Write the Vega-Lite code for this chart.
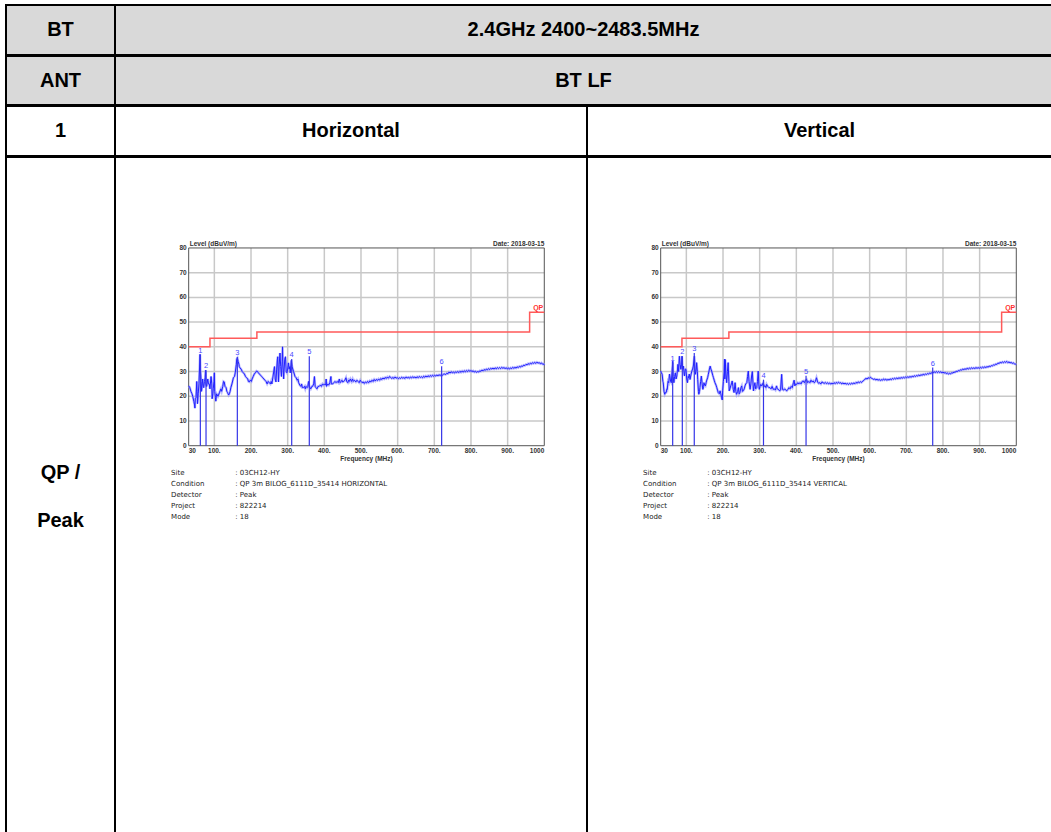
{
  "$schema": "https://vega.github.io/schema/vega-lite/v6.json",
  "padding": {"left": 5, "top": 4, "right": 0, "bottom": 0},
  "background": "white",
  "spacing": -2,
  "config": {
    "view": {"stroke": "black", "strokeWidth": 2},
    "concat": {"spacing": 0},
    "text": {"font": "Liberation Sans"}
  },
  "datasets": {
    "gridL": [{"g":"a","f":100,"v":0},{"g":"a","f":100,"v":80},{"g":"b","f":200,"v":0},{"g":"b","f":200,"v":80},{"g":"c","f":300,"v":0},{"g":"c","f":300,"v":80},{"g":"d","f":400,"v":0},{"g":"d","f":400,"v":80},{"g":"e","f":500,"v":0},{"g":"e","f":500,"v":80},{"g":"f","f":600,"v":0},{"g":"f","f":600,"v":80},{"g":"g","f":700,"v":0},{"g":"g","f":700,"v":80},{"g":"h","f":800,"v":0},{"g":"h","f":800,"v":80},{"g":"i","f":900,"v":0},{"g":"i","f":900,"v":80},{"g":"j","f":30,"v":10},{"g":"j","f":1000,"v":10},{"g":"k","f":30,"v":20},{"g":"k","f":1000,"v":20},{"g":"l","f":30,"v":30},{"g":"l","f":1000,"v":30},{"g":"m","f":30,"v":40},{"g":"m","f":1000,"v":40},{"g":"n","f":30,"v":50},{"g":"n","f":1000,"v":50},{"g":"o","f":30,"v":60},{"g":"o","f":1000,"v":60},{"g":"p","f":30,"v":70},{"g":"p","f":1000,"v":70}],
    "frame": [{"g":"B","f":30,"v":0},{"g":"B","f":1000,"v":0},{"g":"T","f":30,"v":80},{"g":"T","f":1000,"v":80},{"g":"L","f":30,"v":0},{"g":"L","f":30,"v":80},{"g":"R","f":1000,"v":0},{"g":"R","f":1000,"v":80}],
    "qp": [{"f":30,"v":40},{"f":88,"v":43.5},{"f":216,"v":46},{"f":960,"v":54},{"f":1000,"v":54}],
    "yt": [{"f":30,"v":0,"l":"0"},{"f":30,"v":10,"l":"10"},{"f":30,"v":20,"l":"20"},{"f":30,"v":30,"l":"30"},{"f":30,"v":40,"l":"40"},{"f":30,"v":50,"l":"50"},{"f":30,"v":60,"l":"60"},{"f":30,"v":70,"l":"70"},{"f":30,"v":80,"l":"80"}],
    "xt": [{"f":100,"v":0,"l":"100."},{"f":200,"v":0,"l":"200."},{"f":300,"v":0,"l":"300."},{"f":400,"v":0,"l":"400."},{"f":500,"v":0,"l":"500."},{"f":600,"v":0,"l":"600."},{"f":700,"v":0,"l":"700."},{"f":800,"v":0,"l":"800."},{"f":900,"v":0,"l":"900."}],
    "x30": [{"f":30,"v":0,"t":"30"}],
    "x1000": [{"f":1000,"v":0,"t":"1000"}],
    "lvl": [{"f":30,"v":80,"t":"Level (dBuV/m)"}],
    "date": [{"f":1000,"v":80,"t":"Date: 2018-03-15"}],
    "qpl": [{"f":1000,"v":54,"t":"QP"}],
    "freq": [{"f":515,"v":0,"t":"Frequency (MHz)"}],
    "infoK": [{"f":-18,"v":-9.6,"t":"Site"},{"f":-18,"v":-13.97,"t":"Condition"},{"f":-18,"v":-18.34,"t":"Detector"},{"f":-18,"v":-22.71,"t":"Project"},{"f":-18,"v":-27.08,"t":"Mode"}],
    "infoH": [{"f":157,"v":-9.6,"t":": 03CH12-HY"},{"f":157,"v":-13.97,"t":": QP 3m BILOG_6111D_35414 HORIZONTAL"},{"f":157,"v":-18.34,"t":": Peak"},{"f":157,"v":-22.71,"t":": 822214"},{"f":157,"v":-27.08,"t":": 18"}],
    "infoV": [{"f":157,"v":-9.6,"t":": 03CH12-HY"},{"f":157,"v":-13.97,"t":": QP 3m BILOG_6111D_35414 VERTICAL"},{"f":157,"v":-18.34,"t":": Peak"},{"f":157,"v":-22.71,"t":": 822214"},{"f":157,"v":-27.08,"t":": 18"}],
    "mkH": [{"f":61.8,"v":36.8,"n":"1"},{"f":77.3,"v":30.5,"n":"2"},{"f":162.7,"v":35.9,"n":"3"},{"f":311,"v":35.1,"n":"4"},{"f":359,"v":36.2,"n":"5"},{"f":720,"v":32.1,"n":"6"}],
    "spH": [{"m":"1","f":61.8,"v":0},{"m":"1","f":61.8,"v":36.8},{"m":"2","f":77.3,"v":0},{"m":"2","f":77.3,"v":30.5},{"m":"3","f":162.7,"v":0},{"m":"3","f":162.7,"v":35.9},{"m":"4","f":311,"v":0},{"m":"4","f":311,"v":35.1},{"m":"5","f":359,"v":0},{"m":"5","f":359,"v":36.2},{"m":"6","f":720,"v":0},{"m":"6","f":720,"v":32.1}],
    "mkV": [{"f":62.7,"v":33.5,"n":"1"},{"f":89,"v":36.2,"n":"2"},{"f":121.6,"v":37.5,"n":"3"},{"f":310.4,"v":26.7,"n":"4"},{"f":426.5,"v":28.3,"n":"5"},{"f":772,"v":31.6,"n":"6"}],
    "spV": [{"m":"1","f":62.7,"v":0},{"m":"1","f":62.7,"v":33.5},{"m":"2","f":89,"v":0},{"m":"2","f":89,"v":36.2},{"m":"3","f":121.6,"v":0},{"m":"3","f":121.6,"v":37.5},{"m":"4","f":310.4,"v":0},{"m":"4","f":310.4,"v":26.7},{"m":"5","f":426.5,"v":0},{"m":"5","f":426.5,"v":28.3},{"m":"6","f":772,"v":0},{"m":"6","f":772,"v":31.6}],
    "traceH": [
      {"f":30,"v":24.2},{"f":33,"v":23.5},{"f":36,"v":22},{"f":39,"v":21},{"f":41,"v":20},{"f":44,"v":18},{"f":46,"v":16.5},{"f":47,"v":15.2},{"f":48,"v":19},{"f":50,"v":19.5},{"f":52,"v":26},{"f":53,"v":22},{"f":54,"v":17},{"f":56,"v":21},{"f":58,"v":25},{"f":59,"v":29},{"f":61,"v":37},{"f":62,"v":31},{"f":64,"v":26},{"f":65,"v":22},{"f":67,"v":25},{"f":68,"v":27},{"f":70,"v":24},{"f":71,"v":23.5},{"f":73,"v":26},{"f":75,"v":27.5},{"f":76,"v":30.5},{"f":77,"v":25},{"f":79,"v":24},{"f":82,"v":27},{"f":84,"v":25},{"f":86,"v":25},{"f":88,"v":23},{"f":91,"v":28},{"f":93,"v":25},{"f":94,"v":19},{"f":96,"v":21},{"f":97,"v":23},{"f":99,"v":26},{"f":100,"v":29.5},{"f":101,"v":22},{"f":103,"v":19.5},{"f":104,"v":18},{"f":106,"v":21},{"f":110,"v":20},{"f":114,"v":21.5},{"f":118,"v":23},{"f":120,"v":22},{"f":123,"v":24},{"f":125,"v":26},{"f":127,"v":25.8},{"f":129,"v":24},{"f":132,"v":23.5},{"f":134,"v":22},{"f":136,"v":21.5},{"f":139,"v":20.5},{"f":141,"v":21},{"f":143,"v":22},{"f":145,"v":23.5},{"f":148,"v":25},{"f":152,"v":27.5},{"f":155,"v":28},{"f":157,"v":29.5},{"f":160,"v":33},{"f":161,"v":35},{"f":163,"v":35.5},{"f":165,"v":34},{"f":167,"v":33},{"f":168,"v":32},{"f":170,"v":31.5},{"f":173,"v":31},{"f":176,"v":30},{"f":179,"v":29.5},{"f":182,"v":29},{"f":185,"v":28},{"f":188,"v":27.5},{"f":191,"v":27},{"f":193,"v":26},{"f":195,"v":25.8},{"f":198,"v":26.5},{"f":201,"v":26},{"f":203,"v":27},{"f":206,"v":28},{"f":209,"v":29},{"f":212,"v":29.5},{"f":215,"v":30.2},{"f":218,"v":30},{"f":220,"v":29.5},{"f":223,"v":29},{"f":226,"v":28.5},{"f":229,"v":28},{"f":232,"v":27.5},{"f":235,"v":27},{"f":238,"v":26.5},{"f":241,"v":26},{"f":244,"v":25},{"f":247,"v":26},{"f":250,"v":25.5},{"f":253,"v":25},{"f":255,"v":26},{"f":257,"v":25},{"f":259,"v":27},{"f":261,"v":29},{"f":264,"v":32},{"f":266,"v":27},{"f":268,"v":25.8},{"f":270,"v":31},{"f":272,"v":35},{"f":273,"v":36},{"f":274,"v":30},{"f":275,"v":25.8},{"f":277,"v":33},{"f":279,"v":37.5},{"f":281,"v":32},{"f":283,"v":28},{"f":285,"v":34},{"f":286,"v":40},{"f":287,"v":33},{"f":289,"v":27},{"f":290,"v":30},{"f":292,"v":35},{"f":294,"v":36},{"f":296,"v":30},{"f":298,"v":29.5},{"f":300,"v":31},{"f":302,"v":33.5},{"f":304,"v":31},{"f":306,"v":32},{"f":307,"v":29.5},{"f":309,"v":33},{"f":310,"v":34.5},{"f":312,"v":32},{"f":314,"v":31},{"f":316,"v":30},{"f":318,"v":29},{"f":320,"v":28},{"f":323,"v":27.5},{"f":326,"v":26.5},{"f":328,"v":27},{"f":330,"v":25.5},{"f":333,"v":24.5},{"f":336,"v":24},{"f":338,"v":25},{"f":340,"v":23.5},{"f":343,"v":23.5},{"f":346,"v":24},{"f":348,"v":23},{"f":350,"v":24},{"f":353,"v":23.5},{"f":355,"v":24},{"f":357,"v":26},{"f":359,"v":24},{"f":361,"v":23.5},{"f":363,"v":23},{"f":366,"v":24},{"f":368,"v":24},{"f":371,"v":25},{"f":373,"v":28},{"f":375,"v":24},{"f":377,"v":23.5},{"f":380,"v":23},{"f":383,"v":24},{"f":386,"v":24},{"f":389,"v":24.5},{"f":392,"v":24},{"f":395,"v":25},{"f":398,"v":24.5},{"f":401,"v":25},{"f":404,"v":24.5},{"f":405,"v":27},{"f":406,"v":24},{"f":409,"v":25},{"f":412,"v":24.5},{"f":415,"v":25.5},{"f":418,"v":28},{"f":419,"v":25},{"f":423,"v":25},{"f":426,"v":25.5},{"f":429,"v":26},{"f":432,"v":25.5},{"f":435,"v":26},{"f":438,"v":25.5},{"f":441,"v":27},{"f":443,"v":25.5},{"f":446,"v":26},{"f":448,"v":26.5},{"f":450,"v":25.8},{"f":453,"v":26},{"f":456,"v":26.5},{"f":459,"v":27.5},{"f":461,"v":26},{"f":464,"v":25.5},{"f":466,"v":26.5},{"f":468,"v":26},{"f":471,"v":27},{"f":474,"v":26},{"f":477,"v":27},{"f":479,"v":26},{"f":482,"v":26.5},{"f":486,"v":25.8},{"f":489,"v":26.5},{"f":492,"v":26},{"f":495,"v":25.5},{"f":498,"v":26.5},{"f":500,"v":26},{"f":503,"v":25.5},{"f":506,"v":25.8},{"f":509,"v":25.2},{"f":512,"v":25.8},{"f":515,"v":25.4},{"f":518,"v":26},{"f":521,"v":25.5},{"f":524,"v":26.2},{"f":527,"v":25.8},{"f":530,"v":26.5},{"f":533,"v":26},{"f":536,"v":26.8},{"f":539,"v":26.2},{"f":542,"v":26.8},{"f":545,"v":26.4},{"f":548,"v":27},{"f":551,"v":26.5},{"f":554,"v":27.2},{"f":557,"v":26.8},{"f":560,"v":27.4},{"f":563,"v":27},{"f":566,"v":27.6},{"f":569,"v":27.2},{"f":572,"v":27.8},{"f":575,"v":27.3},{"f":578,"v":28},{"f":581,"v":27.6},{"f":584,"v":27.2},{"f":587,"v":27.6},{"f":590,"v":27.2},{"f":593,"v":27.8},{"f":596,"v":27.3},{"f":599,"v":27.6},{"f":602,"v":27.1},{"f":605,"v":27.5},{"f":608,"v":27.2},{"f":611,"v":27.7},{"f":614,"v":27.3},{"f":617,"v":27.6},{"f":620,"v":27.2},{"f":623,"v":27.8},{"f":626,"v":27.4},{"f":629,"v":27.7},{"f":632,"v":27.3},{"f":635,"v":27.8},{"f":638,"v":27.4},{"f":641,"v":27.9},{"f":644,"v":27.5},{"f":647,"v":27.8},{"f":650,"v":27.4},{"f":653,"v":27.9},{"f":656,"v":27.5},{"f":659,"v":28},{"f":662,"v":27.6},{"f":665,"v":27.9},{"f":668,"v":27.5},{"f":671,"v":28.1},{"f":674,"v":27.7},{"f":677,"v":28.2},{"f":680,"v":27.8},{"f":683,"v":28.3},{"f":686,"v":27.9},{"f":689,"v":28.4},{"f":692,"v":28},{"f":695,"v":28.5},{"f":698,"v":28.1},{"f":701,"v":28.5},{"f":704,"v":28.2},{"f":707,"v":28.6},{"f":710,"v":28.3},{"f":713,"v":28.7},{"f":716,"v":28.4},{"f":719,"v":28.8},{"f":722,"v":28.5},{"f":725,"v":28.9},{"f":728,"v":29},{"f":731,"v":28.8},{"f":734,"v":29.3},{"f":737,"v":29.1},{"f":740,"v":29.8},{"f":743,"v":29.4},{"f":746,"v":29.9},{"f":749,"v":29.5},{"f":752,"v":29.8},{"f":755,"v":29.4},{"f":758,"v":29.9},{"f":761,"v":29.6},{"f":764,"v":30},{"f":767,"v":29.6},{"f":770,"v":30.1},{"f":773,"v":29.7},{"f":776,"v":30.2},{"f":779,"v":29.8},{"f":782,"v":30.3},{"f":785,"v":29.9},{"f":788,"v":30.4},{"f":791,"v":30},{"f":794,"v":30.5},{"f":797,"v":30.1},{"f":800,"v":30.4},{"f":803,"v":30},{"f":806,"v":30.3},{"f":809,"v":29.8},{"f":812,"v":30.1},{"f":815,"v":29.7},{"f":818,"v":30},{"f":821,"v":29.8},{"f":824,"v":30.3},{"f":827,"v":30.1},{"f":830,"v":30.6},{"f":833,"v":30.3},{"f":836,"v":30.8},{"f":839,"v":30.5},{"f":842,"v":31},{"f":845,"v":30.7},{"f":848,"v":31.2},{"f":851,"v":30.8},{"f":854,"v":31.3},{"f":857,"v":31},{"f":860,"v":31.4},{"f":863,"v":31},{"f":866,"v":31.5},{"f":869,"v":31.1},{"f":872,"v":31.6},{"f":875,"v":31.2},{"f":878,"v":31.6},{"f":881,"v":31.2},{"f":884,"v":31.7},{"f":887,"v":31.3},{"f":890,"v":31.6},{"f":893,"v":31.2},{"f":896,"v":31.5},{"f":899,"v":31.1},{"f":902,"v":31.4},{"f":905,"v":31},{"f":908,"v":31.5},{"f":911,"v":31.2},{"f":914,"v":31.7},{"f":917,"v":31.3},{"f":920,"v":31.7},{"f":923,"v":31.4},{"f":926,"v":31.9},{"f":929,"v":31.6},{"f":932,"v":32.1},{"f":935,"v":31.8},{"f":938,"v":32.3},{"f":941,"v":32.1},{"f":944,"v":32.6},{"f":947,"v":32.4},{"f":950,"v":32.9},{"f":953,"v":32.7},{"f":956,"v":33.2},{"f":959,"v":32.9},{"f":962,"v":33.4},{"f":965,"v":33.1},{"f":968,"v":33.6},{"f":971,"v":33.3},{"f":974,"v":33.7},{"f":977,"v":33.3},{"f":980,"v":33.8},{"f":983,"v":33.4},{"f":986,"v":33.6},{"f":989,"v":33.2},{"f":992,"v":33.5},{"f":995,"v":33},{"f":998,"v":33.1},{"f":1000,"v":32.6}
    ],
    "traceV": [
      {"f":30,"v":30.2},{"f":32,"v":29.5},{"f":34,"v":28.9},{"f":36,"v":26},{"f":37,"v":25.5},{"f":39,"v":22},{"f":41,"v":20.8},{"f":43,"v":21.5},{"f":45,"v":21.5},{"f":47,"v":23},{"f":48,"v":22.8},{"f":50,"v":26},{"f":52,"v":25.5},{"f":54,"v":29},{"f":55,"v":28.2},{"f":57,"v":26},{"f":59,"v":25.5},{"f":61,"v":30},{"f":63,"v":34.2},{"f":64,"v":28},{"f":66,"v":25.5},{"f":68,"v":28},{"f":70,"v":29.5},{"f":72,"v":27},{"f":74,"v":28.2},{"f":76,"v":31},{"f":77,"v":32.9},{"f":79,"v":30},{"f":81,"v":36.2},{"f":83,"v":33},{"f":85,"v":30.9},{"f":87,"v":33},{"f":88,"v":36.2},{"f":90,"v":31},{"f":92,"v":32.2},{"f":94,"v":29},{"f":95,"v":28.2},{"f":97,"v":31},{"f":99,"v":30.9},{"f":101,"v":27},{"f":103,"v":25.5},{"f":105,"v":28},{"f":106,"v":27.5},{"f":108,"v":29},{"f":110,"v":26.8},{"f":113,"v":29},{"f":115,"v":30.2},{"f":117,"v":31},{"f":119,"v":32.2},{"f":121,"v":35},{"f":122,"v":36.2},{"f":124,"v":30},{"f":125,"v":28.9},{"f":127,"v":31},{"f":128,"v":33.6},{"f":130,"v":30},{"f":131,"v":26.8},{"f":133,"v":22},{"f":134,"v":20.8},{"f":136,"v":22},{"f":137,"v":23.5},{"f":139,"v":26},{"f":141,"v":28.2},{"f":143,"v":25},{"f":145,"v":22.8},{"f":147,"v":24},{"f":148,"v":25.5},{"f":150,"v":24.5},{"f":152,"v":24.2},{"f":154,"v":25.5},{"f":155,"v":26.2},{"f":158,"v":27.5},{"f":160,"v":28.9},{"f":163,"v":31},{"f":165,"v":32.2},{"f":167,"v":31},{"f":169,"v":30.2},{"f":172,"v":28.5},{"f":174,"v":27.5},{"f":176,"v":26.5},{"f":178,"v":25.5},{"f":181,"v":24.5},{"f":183,"v":23.5},{"f":185,"v":22.5},{"f":187,"v":21.5},{"f":190,"v":21},{"f":192,"v":22.2},{"f":194,"v":21},{"f":196,"v":19.5},{"f":198,"v":18.5},{"f":199,"v":22.2},{"f":201,"v":26},{"f":203,"v":29.5},{"f":204,"v":35},{"f":205,"v":27},{"f":206,"v":34.9},{"f":208,"v":29},{"f":210,"v":25.5},{"f":212,"v":30},{"f":214,"v":33.6},{"f":216,"v":26},{"f":217,"v":22.2},{"f":219,"v":23},{"f":221,"v":24.2},{"f":223,"v":25},{"f":225,"v":26.2},{"f":227,"v":24},{"f":228,"v":22.8},{"f":230,"v":21.5},{"f":233,"v":25.5},{"f":235,"v":22},{"f":237,"v":20.8},{"f":240,"v":22},{"f":242,"v":23.5},{"f":244,"v":21},{"f":246,"v":21.5},{"f":249,"v":23.5},{"f":251,"v":24.2},{"f":253,"v":22},{"f":255,"v":22.2},{"f":258,"v":23},{"f":260,"v":24.2},{"f":262,"v":25},{"f":265,"v":25.5},{"f":267,"v":28},{"f":269,"v":30.2},{"f":271,"v":26},{"f":274,"v":22.8},{"f":276,"v":25},{"f":278,"v":28.2},{"f":280,"v":30},{"f":283,"v":22.2},{"f":285,"v":24},{"f":287,"v":25.5},{"f":289,"v":23},{"f":292,"v":23.5},{"f":294,"v":26},{"f":296,"v":30.2},{"f":298,"v":24},{"f":299,"v":22.8},{"f":301,"v":24},{"f":303,"v":24.8},{"f":306,"v":24.2},{"f":308,"v":25},{"f":310,"v":25.5},{"f":312,"v":24},{"f":315,"v":24.2},{"f":317,"v":23.5},{"f":319,"v":24.8},{"f":322,"v":24},{"f":325,"v":23.5},{"f":328,"v":23.5},{"f":331,"v":23},{"f":334,"v":24},{"f":337,"v":22.8},{"f":340,"v":23},{"f":343,"v":22.5},{"f":346,"v":24.2},{"f":348,"v":23},{"f":350,"v":22.8},{"f":353,"v":22.5},{"f":355,"v":22.2},{"f":357,"v":22.6},{"f":360,"v":28.9},{"f":362,"v":22.8},{"f":365,"v":22.5},{"f":368,"v":23},{"f":371,"v":22.5},{"f":374,"v":22.2},{"f":377,"v":22.8},{"f":380,"v":23.5},{"f":383,"v":23},{"f":386,"v":24},{"f":389,"v":23.5},{"f":392,"v":25.5},{"f":394,"v":26.5},{"f":396,"v":24.2},{"f":398,"v":25},{"f":401,"v":24.8},{"f":404,"v":25.5},{"f":407,"v":25},{"f":410,"v":25.5},{"f":413,"v":25},{"f":416,"v":26},{"f":419,"v":26.2},{"f":422,"v":25.5},{"f":425,"v":26.5},{"f":428,"v":26.8},{"f":431,"v":25.5},{"f":434,"v":26},{"f":437,"v":25.5},{"f":440,"v":26.5},{"f":443,"v":25.8},{"f":446,"v":26.2},{"f":449,"v":25.5},{"f":452,"v":26},{"f":455,"v":27.5},{"f":458,"v":25.8},{"f":461,"v":25.2},{"f":464,"v":25.5},{"f":467,"v":25},{"f":470,"v":25.8},{"f":473,"v":25.5},{"f":476,"v":25.2},{"f":479,"v":25.6},{"f":482,"v":25.1},{"f":485,"v":25.5},{"f":488,"v":25},{"f":491,"v":25.4},{"f":494,"v":24.9},{"f":497,"v":25.3},{"f":500,"v":25},{"f":503,"v":25.5},{"f":506,"v":25.1},{"f":509,"v":25.6},{"f":512,"v":25.2},{"f":515,"v":25.7},{"f":518,"v":25.3},{"f":521,"v":25.5},{"f":524,"v":25},{"f":527,"v":25.4},{"f":530,"v":25},{"f":533,"v":25.3},{"f":536,"v":24.9},{"f":539,"v":25.2},{"f":542,"v":24.8},{"f":545,"v":25.2},{"f":548,"v":24.9},{"f":551,"v":25.3},{"f":554,"v":25},{"f":557,"v":25.4},{"f":560,"v":25.1},{"f":563,"v":25.6},{"f":566,"v":25.3},{"f":569,"v":25.8},{"f":572,"v":25.5},{"f":575,"v":25.9},{"f":578,"v":25.6},{"f":581,"v":26.1},{"f":584,"v":26.4},{"f":587,"v":26.9},{"f":590,"v":27.2},{"f":593,"v":27},{"f":596,"v":27.5},{"f":599,"v":27.2},{"f":602,"v":27.7},{"f":605,"v":27.3},{"f":608,"v":27.1},{"f":611,"v":26.8},{"f":614,"v":27},{"f":617,"v":26.6},{"f":620,"v":26.9},{"f":623,"v":26.5},{"f":626,"v":26.8},{"f":629,"v":26.4},{"f":632,"v":26.7},{"f":635,"v":26.5},{"f":638,"v":27},{"f":641,"v":26.6},{"f":644,"v":26.9},{"f":647,"v":26.5},{"f":650,"v":26.8},{"f":653,"v":26.6},{"f":656,"v":27},{"f":659,"v":26.7},{"f":662,"v":27.2},{"f":665,"v":26.9},{"f":668,"v":27.3},{"f":671,"v":27},{"f":674,"v":27.4},{"f":677,"v":27.1},{"f":680,"v":27.5},{"f":683,"v":27.2},{"f":686,"v":27.6},{"f":689,"v":27.3},{"f":692,"v":27.7},{"f":695,"v":27.4},{"f":698,"v":27.8},{"f":701,"v":27.5},{"f":704,"v":27.9},{"f":707,"v":27.6},{"f":710,"v":28},{"f":713,"v":27.7},{"f":716,"v":28.1},{"f":719,"v":27.9},{"f":722,"v":28.3},{"f":725,"v":28},{"f":728,"v":28.4},{"f":731,"v":28.2},{"f":734,"v":28.6},{"f":737,"v":28.3},{"f":740,"v":28.7},{"f":743,"v":28.5},{"f":746,"v":28.9},{"f":749,"v":28.6},{"f":752,"v":29},{"f":755,"v":28.8},{"f":758,"v":29.2},{"f":761,"v":29},{"f":764,"v":29.4},{"f":767,"v":29.2},{"f":770,"v":29.6},{"f":773,"v":29.5},{"f":776,"v":29.9},{"f":779,"v":29.6},{"f":782,"v":30},{"f":785,"v":29.6},{"f":788,"v":30},{"f":791,"v":29.6},{"f":794,"v":29.9},{"f":797,"v":29.5},{"f":800,"v":29.8},{"f":803,"v":29.4},{"f":806,"v":29.6},{"f":809,"v":29.2},{"f":812,"v":29.4},{"f":815,"v":29},{"f":818,"v":29.3},{"f":821,"v":29.1},{"f":824,"v":29.5},{"f":827,"v":29.4},{"f":830,"v":29.8},{"f":833,"v":29.7},{"f":836,"v":30.1},{"f":839,"v":30},{"f":842,"v":30.4},{"f":845,"v":30.3},{"f":848,"v":30.7},{"f":851,"v":30.6},{"f":854,"v":31},{"f":857,"v":30.8},{"f":860,"v":31.1},{"f":863,"v":30.9},{"f":866,"v":31.3},{"f":869,"v":31},{"f":872,"v":31.4},{"f":875,"v":31.1},{"f":878,"v":31.5},{"f":881,"v":31.2},{"f":884,"v":31.5},{"f":887,"v":31.2},{"f":890,"v":31.6},{"f":893,"v":31.3},{"f":896,"v":31.6},{"f":899,"v":31.3},{"f":902,"v":31.7},{"f":905,"v":31.4},{"f":908,"v":31.8},{"f":911,"v":31.5},{"f":914,"v":31.9},{"f":917,"v":31.6},{"f":920,"v":32},{"f":923,"v":31.8},{"f":926,"v":32.2},{"f":929,"v":32},{"f":932,"v":32.4},{"f":935,"v":32.3},{"f":938,"v":32.7},{"f":941,"v":32.6},{"f":944,"v":33},{"f":947,"v":32.9},{"f":950,"v":33.4},{"f":953,"v":33.3},{"f":956,"v":33.7},{"f":959,"v":33.5},{"f":962,"v":33.9},{"f":965,"v":33.6},{"f":968,"v":34},{"f":971,"v":33.7},{"f":974,"v":34.1},{"f":977,"v":33.6},{"f":980,"v":33.9},{"f":983,"v":33.5},{"f":986,"v":33.7},{"f":989,"v":33.3},{"f":992,"v":33.5},{"f":995,"v":33.1},{"f":998,"v":33},{"f":1000,"v":32.8}
    ]
  },
  "vconcat": [
    {
      "spacing": 0, "bounds": "flush",
      "hconcat": [
        {"width": 109, "height": 50, "view": {"fill": "#d9d9d9"}, "data": {"values": [{"t": "BT"}]}, "mark": {"type": "text", "fontSize": 20, "fontWeight": "bold", "color": "black"}, "encoding": {"x": {"field": "t", "type": "nominal", "axis": null}, "y": {"field": "t", "type": "nominal", "axis": null}, "text": {"field": "t", "type": "nominal"}}},
        {"width": 937, "height": 50, "view": {"fill": "#d9d9d9"}, "data": {"values": [{"t": "2.4GHz 2400~2483.5MHz"}]}, "mark": {"type": "text", "fontSize": 20, "fontWeight": "bold", "color": "black"}, "encoding": {"x": {"field": "t", "type": "nominal", "axis": null}, "y": {"field": "t", "type": "nominal", "axis": null}, "text": {"field": "t", "type": "nominal"}}}
      ]
    },
    {
      "spacing": 0, "bounds": "flush",
      "hconcat": [
        {"width": 109, "height": 49, "view": {"fill": "#d9d9d9"}, "data": {"values": [{"t": "ANT"}]}, "mark": {"type": "text", "fontSize": 20, "fontWeight": "bold", "color": "black"}, "encoding": {"x": {"field": "t", "type": "nominal", "axis": null}, "y": {"field": "t", "type": "nominal", "axis": null}, "text": {"field": "t", "type": "nominal"}}},
        {"width": 937, "height": 49, "view": {"fill": "#d9d9d9"}, "data": {"values": [{"t": "BT LF"}]}, "mark": {"type": "text", "fontSize": 20, "fontWeight": "bold", "color": "black"}, "encoding": {"x": {"field": "t", "type": "nominal", "axis": null}, "y": {"field": "t", "type": "nominal", "axis": null}, "text": {"field": "t", "type": "nominal"}}}
      ]
    },
    {
      "spacing": 0, "bounds": "flush",
      "hconcat": [
        {"width": 109, "height": 50, "view": {"fill": "white"}, "data": {"values": [{"t": "1"}]}, "mark": {"type": "text", "fontSize": 20, "fontWeight": "bold", "color": "black"}, "encoding": {"x": {"field": "t", "type": "nominal", "axis": null}, "y": {"field": "t", "type": "nominal", "axis": null}, "text": {"field": "t", "type": "nominal"}}},
        {"width": 472, "height": 50, "view": {"fill": "white"}, "data": {"values": [{"t": "Horizontal"}]}, "mark": {"type": "text", "fontSize": 20, "fontWeight": "bold", "color": "black"}, "encoding": {"x": {"field": "t", "type": "nominal", "axis": null}, "y": {"field": "t", "type": "nominal", "axis": null}, "text": {"field": "t", "type": "nominal"}}},
        {"width": 465, "height": 50, "view": {"fill": "white"}, "data": {"values": [{"t": "Vertical"}]}, "mark": {"type": "text", "fontSize": 20, "fontWeight": "bold", "color": "black"}, "encoding": {"x": {"field": "t", "type": "nominal", "axis": null}, "y": {"field": "t", "type": "nominal", "axis": null}, "text": {"field": "t", "type": "nominal"}}}
      ]
    },
    {
      "spacing": 0, "bounds": "flush",
      "hconcat": [
        {"width": 109, "height": 680, "view": {"fill": "white"}, "data": {"values": [{"c": "q", "o": 1, "t": "QP /"}, {"c": "q", "o": 2, "t": "Peak"}]}, "mark": {"type": "text", "fontSize": 20, "fontWeight": "bold", "color": "black"}, "encoding": {"x": {"field": "c", "type": "nominal", "axis": null}, "y": {"field": "o", "type": "quantitative", "axis": null, "scale": {"domain": [-5.5833, 8.5833], "reverse": true, "nice": false, "zero": false}}, "text": {"field": "t", "type": "nominal"}}},
        {
          "width": 472, "height": 680, "view": {"fill": "white"},
          "encoding": {
            "x": {"field": "f", "type": "quantitative", "scale": {"domain": [-171, 1116.5], "nice": false, "zero": false}, "axis": null},
            "y": {"field": "v", "type": "quantitative", "scale": {"domain": [-158.3, 116.8], "nice": false, "zero": false}, "axis": null}
          },
          "layer": [
            {"data": {"name": "gridL"}, "mark": {"type": "line", "color": "#c8c8c8", "strokeWidth": 1.5}, "encoding": {"detail": {"field": "g", "type": "nominal"}}},
            {"data": {"name": "frame"}, "mark": {"type": "line", "color": "#555555", "strokeWidth": 1}, "encoding": {"detail": {"field": "g", "type": "nominal"}}},
            {"data": {"name": "qp"}, "mark": {"type": "line", "color": "#ff5a5a", "strokeWidth": 1.5, "interpolate": "step-after"}},
            {"data": {"name": "traceH"}, "mark": {"type": "line", "color": "#9a9aff", "strokeWidth": 2.4, "opacity": 0.7}},
            {"data": {"name": "traceH"}, "mark": {"type": "line", "color": "#2020ff", "strokeWidth": 1}},
            {"data": {"name": "spH"}, "mark": {"type": "line", "color": "#3535e8", "strokeWidth": 1.2}, "encoding": {"detail": {"field": "m", "type": "nominal"}}},
            {"data": {"name": "mkH"}, "mark": {"type": "text", "color": "#4a4aff", "fontSize": 7.5, "baseline": "bottom"}, "encoding": {"text": {"field": "n", "type": "nominal"}}},
            {"data": {"name": "yt"}, "mark": {"type": "text", "color": "#333333", "fontSize": 6.5, "fontWeight": "bold", "align": "right", "baseline": "middle", "dx": -2}, "encoding": {"text": {"field": "l", "type": "nominal"}}},
            {"data": {"name": "xt"}, "mark": {"type": "text", "color": "#333333", "fontSize": 6.5, "fontWeight": "bold", "align": "center", "baseline": "top", "dy": 2}, "encoding": {"text": {"field": "l", "type": "nominal"}}},
            {"data": {"name": "x30"}, "mark": {"type": "text", "color": "#333333", "fontSize": 6.5, "fontWeight": "bold", "align": "left", "baseline": "top", "dy": 2}, "encoding": {"text": {"field": "t", "type": "nominal"}}},
            {"data": {"name": "x1000"}, "mark": {"type": "text", "color": "#333333", "fontSize": 6.5, "fontWeight": "bold", "align": "right", "baseline": "top", "dy": 2}, "encoding": {"text": {"field": "t", "type": "nominal"}}},
            {"data": {"name": "lvl"}, "mark": {"type": "text", "color": "#333333", "fontSize": 6.5, "fontWeight": "bold", "align": "left", "baseline": "bottom", "dx": 1, "dy": -1}, "encoding": {"text": {"field": "t", "type": "nominal"}}},
            {"data": {"name": "date"}, "mark": {"type": "text", "color": "#333333", "fontSize": 6.5, "fontWeight": "bold", "align": "right", "baseline": "bottom", "dy": -1}, "encoding": {"text": {"field": "t", "type": "nominal"}}},
            {"data": {"name": "qpl"}, "mark": {"type": "text", "color": "#ff3030", "fontSize": 7, "fontWeight": "bold", "align": "right", "baseline": "bottom", "dx": -1, "dy": -1}, "encoding": {"text": {"field": "t", "type": "nominal"}}},
            {"data": {"name": "freq"}, "mark": {"type": "text", "color": "#333333", "fontSize": 6.5, "fontWeight": "bold", "align": "center", "baseline": "top", "dy": 10}, "encoding": {"text": {"field": "t", "type": "nominal"}}},
            {"data": {"name": "infoK"}, "mark": {"type": "text", "font": "DejaVu Sans", "color": "#222222", "fontSize": 7, "align": "left", "baseline": "top"}, "encoding": {"text": {"field": "t", "type": "nominal"}}},
            {"data": {"name": "infoH"}, "mark": {"type": "text", "font": "DejaVu Sans", "color": "#222222", "fontSize": 7, "align": "left", "baseline": "top"}, "encoding": {"text": {"field": "t", "type": "nominal"}}}
          ]
        },
        {
          "width": 465, "height": 680, "view": {"fill": "white"},
          "encoding": {
            "x": {"field": "f", "type": "quantitative", "scale": {"domain": [-171, 1097.4], "nice": false, "zero": false}, "axis": null},
            "y": {"field": "v", "type": "quantitative", "scale": {"domain": [-158.3, 116.8], "nice": false, "zero": false}, "axis": null}
          },
          "layer": [
            {"data": {"name": "gridL"}, "mark": {"type": "line", "color": "#c8c8c8", "strokeWidth": 1.5}, "encoding": {"detail": {"field": "g", "type": "nominal"}}},
            {"data": {"name": "frame"}, "mark": {"type": "line", "color": "#555555", "strokeWidth": 1}, "encoding": {"detail": {"field": "g", "type": "nominal"}}},
            {"data": {"name": "qp"}, "mark": {"type": "line", "color": "#ff5a5a", "strokeWidth": 1.5, "interpolate": "step-after"}},
            {"data": {"name": "traceV"}, "mark": {"type": "line", "color": "#9a9aff", "strokeWidth": 2.4, "opacity": 0.7}},
            {"data": {"name": "traceV"}, "mark": {"type": "line", "color": "#2020ff", "strokeWidth": 1}},
            {"data": {"name": "spV"}, "mark": {"type": "line", "color": "#3535e8", "strokeWidth": 1.2}, "encoding": {"detail": {"field": "m", "type": "nominal"}}},
            {"data": {"name": "mkV"}, "mark": {"type": "text", "color": "#4a4aff", "fontSize": 7.5, "baseline": "bottom"}, "encoding": {"text": {"field": "n", "type": "nominal"}}},
            {"data": {"name": "yt"}, "mark": {"type": "text", "color": "#333333", "fontSize": 6.5, "fontWeight": "bold", "align": "right", "baseline": "middle", "dx": -2}, "encoding": {"text": {"field": "l", "type": "nominal"}}},
            {"data": {"name": "xt"}, "mark": {"type": "text", "color": "#333333", "fontSize": 6.5, "fontWeight": "bold", "align": "center", "baseline": "top", "dy": 2}, "encoding": {"text": {"field": "l", "type": "nominal"}}},
            {"data": {"name": "x30"}, "mark": {"type": "text", "color": "#333333", "fontSize": 6.5, "fontWeight": "bold", "align": "left", "baseline": "top", "dy": 2}, "encoding": {"text": {"field": "t", "type": "nominal"}}},
            {"data": {"name": "x1000"}, "mark": {"type": "text", "color": "#333333", "fontSize": 6.5, "fontWeight": "bold", "align": "right", "baseline": "top", "dy": 2}, "encoding": {"text": {"field": "t", "type": "nominal"}}},
            {"data": {"name": "lvl"}, "mark": {"type": "text", "color": "#333333", "fontSize": 6.5, "fontWeight": "bold", "align": "left", "baseline": "bottom", "dx": 1, "dy": -1}, "encoding": {"text": {"field": "t", "type": "nominal"}}},
            {"data": {"name": "date"}, "mark": {"type": "text", "color": "#333333", "fontSize": 6.5, "fontWeight": "bold", "align": "right", "baseline": "bottom", "dy": -1}, "encoding": {"text": {"field": "t", "type": "nominal"}}},
            {"data": {"name": "qpl"}, "mark": {"type": "text", "color": "#ff3030", "fontSize": 7, "fontWeight": "bold", "align": "right", "baseline": "bottom", "dx": -1, "dy": -1}, "encoding": {"text": {"field": "t", "type": "nominal"}}},
            {"data": {"name": "freq"}, "mark": {"type": "text", "color": "#333333", "fontSize": 6.5, "fontWeight": "bold", "align": "center", "baseline": "top", "dy": 10}, "encoding": {"text": {"field": "t", "type": "nominal"}}},
            {"data": {"name": "infoK"}, "mark": {"type": "text", "font": "DejaVu Sans", "color": "#222222", "fontSize": 7, "align": "left", "baseline": "top"}, "encoding": {"text": {"field": "t", "type": "nominal"}}},
            {"data": {"name": "infoV"}, "mark": {"type": "text", "font": "DejaVu Sans", "color": "#222222", "fontSize": 7, "align": "left", "baseline": "top"}, "encoding": {"text": {"field": "t", "type": "nominal"}}}
          ]
        }
      ]
    }
  ]
}
